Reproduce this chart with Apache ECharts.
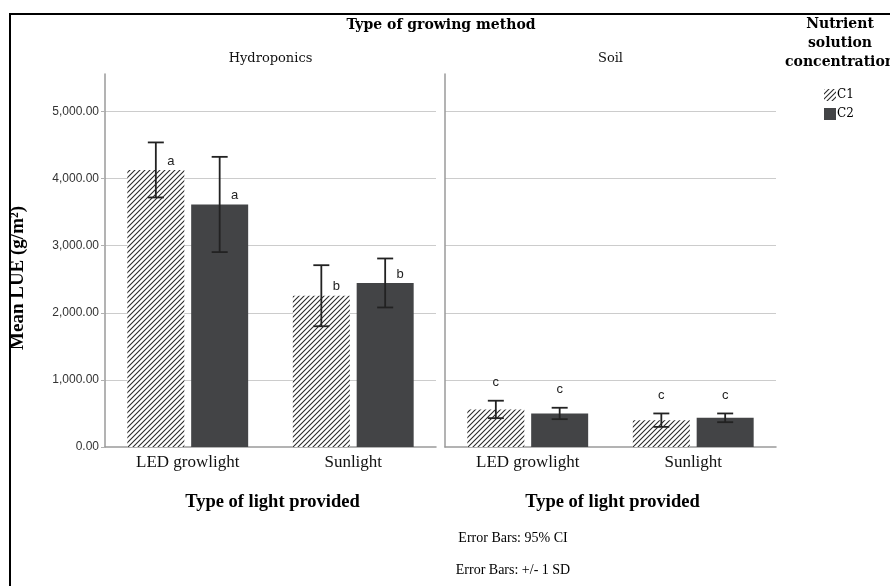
<!DOCTYPE html>
<html>
<head>
<meta charset="utf-8">
<title>Mean LUE by growing method</title>
<script src="https://cdn.jsdelivr.net/npm/echarts@6/dist/echarts.min.js"></script>
<style>
  html, body { margin: 0; padding: 0; background: #fff; }
  #chart { width: 890px; height: 586px; }
</style>
</head>
<body>
<div id="chart"></div>
<script>
// ---- data -------------------------------------------------------------
const lightTypes = ['LED growlight', 'Sunlight'];
const growingMethods = ['Hydroponics', 'Soil'];
const concentrations = ['C1', 'C2'];

// mean LUE (g/m²) for [LED growlight, Sunlight]
const hydroC1Mean = [4130, 2255];
const hydroC2Mean = [3615, 2445];
const soilC1Mean = [560, 400];
const soilC2Mean = [500, 435];

// error bar half-length (g/m²)
const hydroC1Err = [410, 455];
const hydroC2Err = [710, 365];
const soilC1Err = [130, 100];
const soilC2Err = [85, 65];

// significance letters
const hydroC1Letters = ['a', 'b'];
const hydroC2Letters = ['a', 'b'];
const soilC1Letters = ['c', 'c'];
const soilC2Letters = ['c', 'c'];

const yMin = 0;
const yMax = 5560;
const yStep = 1000;

const notes = ['Error Bars: 95% CI', 'Error Bars: +/- 1 SD'];

// ---- styling ----------------------------------------------------------
const SERIF = '"Liberation Serif", "Times New Roman", serif';
const WIDE_SERIF = '"DejaVu Serif", serif';
const SANS = '"Liberation Sans", Arial, sans-serif';
const BAR_W = 57;
const BAR_GAP = '12%';
const BAR_SHIFT = (BAR_W + BAR_W * 0.12) / 2;
const SOLID = '#434446';

function hatchCanvas() {
  const s = 5;
  const c = document.createElement('canvas');
  c.width = s; c.height = s;
  const g = c.getContext('2d');
  g.fillStyle = '#ffffff';
  g.fillRect(0, 0, s, s);
  g.strokeStyle = '#2b2b2b';
  g.lineWidth = 1.1;
  g.beginPath();
  g.moveTo(-1, s + 1); g.lineTo(s + 1, -1);
  g.moveTo(-1, 1); g.lineTo(1, -1);
  g.moveTo(s - 1, s + 1); g.lineTo(s + 1, s - 1);
  g.stroke();
  return c;
}
const HATCH = { image: hatchCanvas(), repeat: 'repeat' };

const fmt = v => v.toLocaleString('en-US', { minimumFractionDigits: 2, maximumFractionDigits: 2 });

const panels = [
  { left: 105, c1: hydroC1Mean, c2: hydroC2Mean, e1: hydroC1Err, e2: hydroC2Err,
    l1: hydroC1Letters, l2: hydroC2Letters, letterMode: 'side', labels: true },
  { left: 445, c1: soilC1Mean, c2: soilC2Mean, e1: soilC1Err, e2: soilC2Err,
    l1: soilC1Letters, l2: soilC2Letters, letterMode: 'above', labels: false }
];
const PANEL_W = 331, GRID_TOP = 74, GRID_H = 373;

function errorSeries(idx, means, errs, letters, side, mode) {
  return {
    type: 'custom',
    name: 'err' + idx + side,
    xAxisIndex: idx, yAxisIndex: idx,
    z: 10,
    silent: true,
    data: means.map((m, i) => [i, m, errs[i]]),
    renderItem(params, api) {
      const i = api.value(0), m = api.value(1), e = api.value(2);
      const hi = api.coord([i, m + e]);
      const lo = api.coord([i, m - e]);
      const mid = api.coord([i, m]);
      const x = hi[0] + side * BAR_SHIFT;
      const cap = 8;
      const ls = { stroke: '#222', lineWidth: 1.8 };
      const letter = letters[params.dataIndex];
      const tx = mode === 'side' ? x + 15 : x;
      const ty = mode === 'side' ? mid[1] - 9 : hi[1] - 18;
      return {
        type: 'group',
        children: [
          { type: 'line', shape: { x1: x, y1: hi[1], x2: x, y2: lo[1] }, style: ls },
          { type: 'line', shape: { x1: x - cap, y1: hi[1], x2: x + cap, y2: hi[1] }, style: ls },
          { type: 'line', shape: { x1: x - cap, y1: lo[1], x2: x + cap, y2: lo[1] }, style: ls },
          { type: 'text', style: { x: tx, y: ty, text: letter, fill: '#222',
            font: '13px "Liberation Sans", Arial, sans-serif', align: 'center', verticalAlign: 'middle' } }
        ]
      };
    }
  };
}

const grid = [], xAxis = [], yAxis = [], series = [];
panels.forEach((p, idx) => {
  grid.push({ left: p.left, top: GRID_TOP, width: PANEL_W, height: GRID_H, containLabel: false, outerBoundsMode: 'none' });
  xAxis.push({
    gridIndex: idx, type: 'category', data: lightTypes,
    axisLine: { show: true, lineStyle: { color: '#9a9a9a', width: 1.5 } },
    axisTick: { show: false },
    axisLabel: { fontFamily: SERIF, fontSize: 17, color: '#111', margin: 7 },
    splitLine: { show: false }
  });
  yAxis.push({
    gridIndex: idx, type: 'value', min: yMin, max: yMax, interval: yStep,
    axisLine: { show: true, lineStyle: { color: '#9a9a9a', width: 1.5 } },
    axisTick: { show: p.labels, length: 4, lineStyle: { color: '#b0b0b0' } },
    axisLabel: { show: p.labels, formatter: fmt, fontFamily: SANS, fontSize: 12, color: '#333',
      margin: 6, showMaxLabel: false },
    splitLine: { show: true, showMinLine: false, showMaxLine: false, lineStyle: { color: '#cccccc', width: 1 } }
  });
  series.push({
    type: 'bar', name: concentrations[0], xAxisIndex: idx, yAxisIndex: idx,
    data: p.c1, barWidth: BAR_W, barGap: BAR_GAP,
    itemStyle: { color: HATCH }
  });
  series.push({
    type: 'bar', name: concentrations[1], xAxisIndex: idx, yAxisIndex: idx,
    data: p.c2, barWidth: BAR_W, barGap: BAR_GAP,
    itemStyle: { color: SOLID }
  });
  series.push(errorSeries(idx, p.c1, p.e1, p.l1, -1, p.letterMode));
  series.push(errorSeries(idx, p.c2, p.e2, p.l2, 1, p.letterMode));
});

const panelCenters = panels.map(p => p.left + PANEL_W / 2);

const graphic = [
  { type: 'rect', shape: { x: 10, y: 14, width: 920, height: 640 },
    style: { fill: 'none', stroke: '#000', lineWidth: 2 }, silent: true },
  { type: 'text', x: 441, y: 25, style: { text: 'Type of growing method', fill: '#000',
    font: 'bold 14px ' + WIDE_SERIF, align: 'center', verticalAlign: 'middle' } },
  { type: 'text', x: 840, y: 15, style: { text: 'Nutrient\nsolution\nconcentration', fill: '#000',
    font: 'bold 14px ' + WIDE_SERIF, lineHeight: 19, align: 'center', verticalAlign: 'top' } },
  { type: 'text', rotation: Math.PI / 2, x: 18, y: 278,
    style: { text: 'Mean LUE (g/m²)', fill: '#000', font: 'bold 19px ' + SERIF,
      align: 'center', verticalAlign: 'middle' } },
  { type: 'text', x: 513, y: 538, style: { text: notes[0], fill: '#000',
    font: '14px ' + SERIF, align: 'center', verticalAlign: 'middle' } },
  { type: 'text', x: 513, y: 570, style: { text: notes[1], fill: '#000',
    font: '14px ' + SERIF, align: 'center', verticalAlign: 'middle' } }
];
growingMethods.forEach((m, i) => {
  graphic.push({ type: 'text', x: panelCenters[i], y: 59, style: { text: m, fill: '#111',
    font: '13px ' + WIDE_SERIF, align: 'center', verticalAlign: 'middle' } });
  graphic.push({ type: 'text', x: panelCenters[i] + 2, y: 502, style: { text: 'Type of light provided', fill: '#000',
    font: 'bold 18.5px ' + SERIF, align: 'center', verticalAlign: 'middle' } });
});

const chart = echarts.init(document.getElementById('chart'), null, { renderer: 'canvas' });
chart.setOption({
  backgroundColor: '#fff',
  animation: false,
  legend: {
    data: concentrations,
    orient: 'vertical',
    left: 819, top: 84,
    itemWidth: 12, itemHeight: 12, itemGap: 7,
    icon: 'rect',
    textStyle: { fontFamily: WIDE_SERIF, fontSize: 12, color: '#000', padding: [0, 0, 0, -4] },
    selectedMode: false
  },
  grid, xAxis, yAxis, series, graphic
});
</script>
</body>
</html>
